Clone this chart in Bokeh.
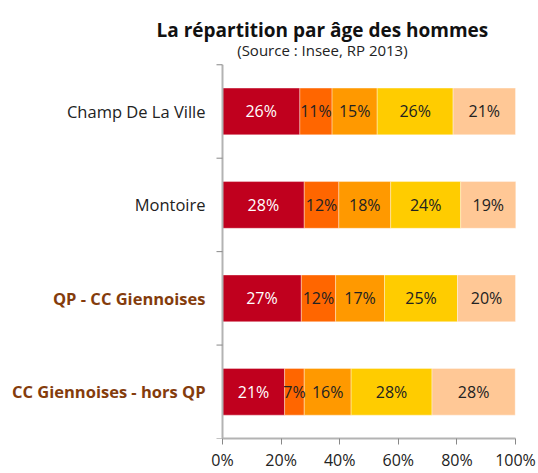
import numpy as np
from bokeh.plotting import figure
from bokeh.models import ColumnDataSource, Range1d, FixedTicker, PrintfTickFormatter, Label
from bokeh.core.properties import value
from bokeh.embed import file_html
from bokeh.resources import INLINE

# ---- data ----
territories = ["Champ De La Ville", "Montoire", "QP - CC Giennoises", "CC Giennoises - hors QP"]
age_groups = ["0-14 ans", "15-29 ans", "30-44 ans", "45-59 ans", "60 ans et plus"]
s1 = [26.4, 27.9, 26.9, 21.2]
s2 = [11.0, 11.8, 11.7, 6.7]
s3 = [15.4, 17.7, 16.7, 16.0]
s4 = [25.9, 23.9, 24.9, 27.6]
s5 = [21.3, 18.8, 19.8, 28.4]
x_ticks = [0, 20, 40, 60, 80, 100]

colors = ["#c0001e", "#ff6600", "#ff9900", "#ffcc00", "#ffc896"]
text_colors = ["white", "#222222", "#222222", "#222222", "#222222"]
label_colors = ["#222222", "#222222", "#843c0c", "#843c0c"]
label_styles = ["normal", "normal", "bold", "bold"]

FONT = "Open Sans"
W, H = 538, 473
BOTTOM = 30                 # bottom axis band
PX_LEFT, PX_RIGHT = 222, 515   # pixel position of 0% and 100%
PX_TOP = 65                 # pixel position of the top of the category band
n = len(territories)
ypos = [n - i - 0.5 for i in range(n)]

# scales so that the frame covers the whole canvas (texts are drawn inside it)
fh = H - BOTTOM
sx = (PX_RIGHT - PX_LEFT) / 100.0
sy = (fh - PX_TOP) / n
x_range = Range1d(-PX_LEFT / sx, (W - PX_LEFT) / sx)
y_range = Range1d(0, n + PX_TOP / sy)

series = [s1, s2, s3, s4, s5]
data = {"y": ypos}
for name, s in zip(age_groups, series):
    data[name] = s
source = ColumnDataSource(data)

p = figure(width=W, height=H, output_backend="svg", toolbar_location=None,
           x_range=x_range, y_range=y_range)
p.min_border = 0
p.min_border_bottom = BOTTOM
p.outline_line_color = None
p.grid.grid_line_color = None
p.background_fill_color = "white"
p.border_fill_color = "white"

p.hbar_stack(age_groups, y="y", height=0.5, color=colors, source=source,
             line_color="white", line_width=0.6, line_alpha=0.6)

# segment labels
arr = np.array(series)
cum = np.cumsum(arr, axis=0)
starts = cum - arr
for k in range(len(series)):
    centers = (starts[k] + cum[k]) / 2
    txt = ["%d%%" % round(v) for v in series[k]]
    src = ColumnDataSource(dict(x=centers, y=ypos, t=txt))
    p.text(x="x", y="y", text="t", source=src, text_align="center", text_baseline="middle",
           text_font=value(FONT), text_font_size="16px", text_color=text_colors[k])

# x axis (library axis, line limited to 0..100)
xa = p.xaxis[0]
xa.bounds = (0, 100)
xa.ticker = FixedTicker(ticks=x_ticks)
xa.formatter = PrintfTickFormatter(format="%d%%")
xa.axis_line_color = "#b3b3b3"
xa.axis_line_width = 2
xa.major_tick_line_color = "#888888"
xa.major_tick_out = 6
xa.major_tick_in = 0
xa.minor_tick_line_color = None
xa.major_label_text_font = FONT
xa.major_label_text_font_size = "16px"
xa.major_label_text_color = "#222222"
xa.major_label_standoff = 4

# y axis: vertical line at 0% with ticks at the category boundaries
p.yaxis.visible = False
tick_len = 6 / sx
bounds_y = list(range(n + 1))
p.segment(x0=[0], y0=[0], x1=[0], y1=[n], line_color="#b3b3b3", line_width=2)
p.segment(x0=[-tick_len] * len(bounds_y), y0=bounds_y, x1=[0] * len(bounds_y), y1=bounds_y,
          line_color="#888888", line_width=1)

# category labels
lab_src = ColumnDataSource(dict(x=[0] * n, y=ypos, t=territories, c=label_colors, s=label_styles))
p.text(x="x", y="y", text="t", source=lab_src, x_offset=-17, text_align="right",
       text_baseline="middle", text_font=value(FONT), text_font_size="16.5px",
       text_color="c", text_font_style="s")

# title & subtitle
p.add_layout(Label(x=34.1, y=n, y_offset=35, text="La répartition par âge des hommes",
                   text_align="center", text_baseline="alphabetic", text_font=FONT,
                   text_font_size="19px", text_font_style="bold", text_color="#111111"))
p.add_layout(Label(x=34.1, y=n, y_offset=15, text="(Source : Insee, RP 2013)",
                   text_align="center", text_baseline="alphabetic", text_font=FONT,
                   text_font_size="15px", text_color="#222222"))

open("out.html", "w").write(file_html(p, INLINE))
